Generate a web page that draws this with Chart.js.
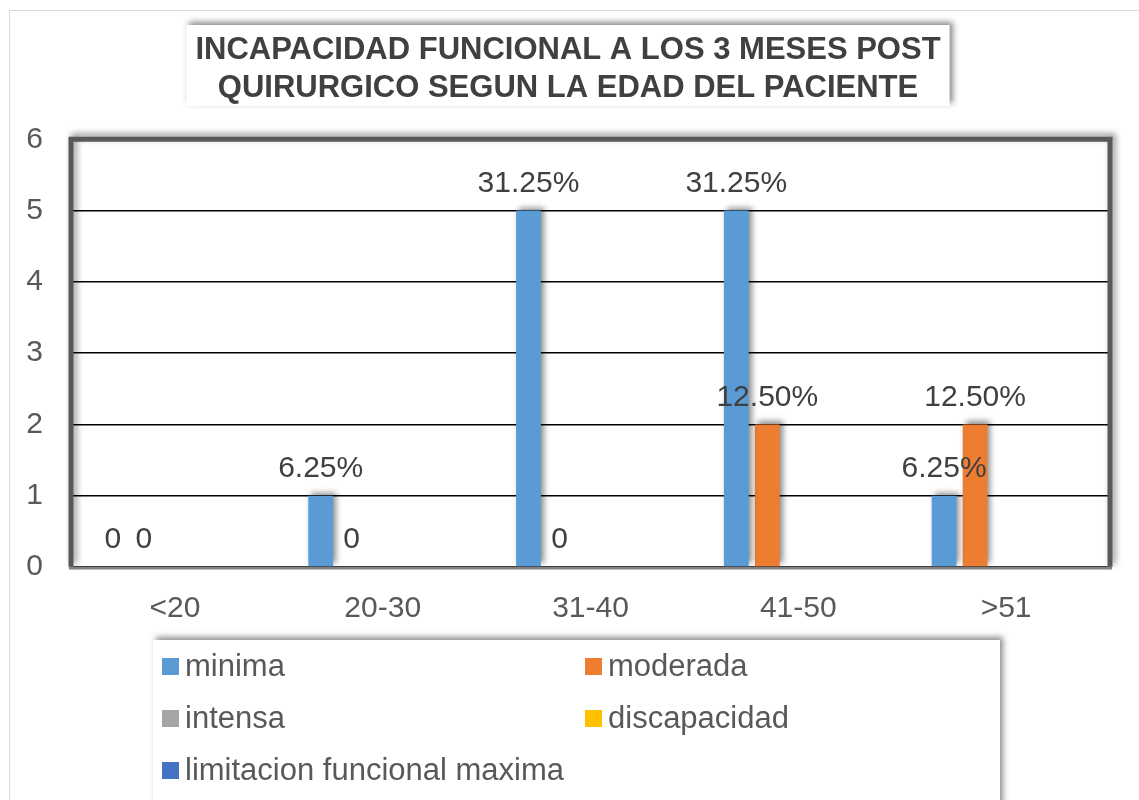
<!DOCTYPE html>
<html lang="es">
<head>
    <meta charset="UTF-8">
    <title>Incapacidad funcional segun la edad</title>
    <script src="https://cdn.jsdelivr.net/npm/chart.js"></script>
    <style>
        body { margin: 0; background: #fff; }
        #wrap { width: 1139px; height: 800px; }
    </style>
</head>
<body>
    <div id="wrap"><canvas id="grafico" width="1139" height="800"></canvas></div>

    <script>
        // datos
        const categorias = ["<20", "20-30", "31-40", "41-50", ">51"];
        const minima = [0, 1, 5, 5, 1];
        const moderada = [0, 0, 0, 2, 2];
        const intensa = [null, null, null, null, null];
        const discapacidad = [null, null, null, null, null];
        const limitacionMaxima = [null, null, null, null, null];
        const etiquetasMinima = ["0", "6.25%", "31.25%", "31.25%", "6.25%"];
        const etiquetasModerada = ["0", "0", "0", "12.50%", "12.50%"];
        const ticksY = [0, 1, 2, 3, 4, 5, 6];

        const fuente = "'Liberation Sans', Arial, sans-serif";
        const gris = "#595959";

        function sombra(ctx) {
            ctx.shadowColor = "rgba(0,0,0,0.45)";
            ctx.shadowBlur = 6;
            ctx.shadowOffsetX = 3;
            ctx.shadowOffsetY = -3;
        }

        // marco, caja del titulo, borde del area y leyenda
        const decorado = {
            id: "decorado",
            beforeDraw(chart) {
                const ctx = chart.ctx;
                ctx.save();
                ctx.strokeStyle = "#d9d9d9";
                ctx.lineWidth = 1;
                ctx.strokeRect(9.5, 10.5, 1300, 1000);
                // caja del titulo
                ctx.font = "bold 31px " + fuente;
                const w = Math.max(...chart.options.plugins.title.text.map(t => ctx.measureText(t).width));
                const cx = (chart.titleBlock.left + chart.titleBlock.right) / 2;
                sombra(ctx);
                ctx.fillStyle = "#fff";
                ctx.fillRect(cx - w / 2 - 9, 25, w + 18, 81);
                ctx.restore();
            },
            beforeDatasetsDraw(chart) {
                const ctx = chart.ctx;
                const a = chart.chartArea;
                ctx.save();
                sombra(ctx);
                ctx.strokeStyle = gris;
                ctx.lineWidth = 5;
                ctx.beginPath();
                ctx.moveTo(a.left, a.bottom);
                ctx.lineTo(a.left, a.top);
                ctx.lineTo(a.right, a.top);
                ctx.lineTo(a.right, a.bottom);
                ctx.stroke();
                ctx.restore();
                ctx.save();
                ctx.strokeStyle = "#808080";
                ctx.lineWidth = 3;
                ctx.beginPath();
                ctx.moveTo(a.left - 2, a.bottom + 1);
                ctx.lineTo(a.right + 2, a.bottom + 1);
                ctx.stroke();
                ctx.restore();
                // sombra para las barras
                ctx.save();
                sombra(ctx);
            },
            afterDatasetsDraw(chart) {
                chart.ctx.restore();
                // etiquetas de datos
                const ctx = chart.ctx;
                ctx.save();
                ctx.font = "30px " + fuente;
                ctx.fillStyle = "#404040";
                ctx.textAlign = "center";
                ctx.textBaseline = "middle";
                chart.data.datasets.forEach((ds, i) => {
                    if (!ds.etiquetas) return;
                    chart.getDatasetMeta(i).data.forEach((bar, j) => {
                        ctx.fillText(ds.etiquetas[j], bar.x, bar.y - 27);
                    });
                });
                ctx.restore();
            },
            afterDraw(chart) {
                const ctx = chart.ctx;
                ctx.save();
                sombra(ctx);
                ctx.fillStyle = "#fff";
                ctx.fillRect(153, 640, 847, 200);
                ctx.restore();
                ctx.save();
                ctx.font = "31px " + fuente;
                ctx.textBaseline = "middle";
                const cols = [162, 585];
                const filas = [666, 718, 770];
                chart.data.datasets.forEach((ds, i) => {
                    const x = cols[i % 2];
                    const y = filas[Math.floor(i / 2)];
                    ctx.fillStyle = ds.backgroundColor;
                    ctx.fillRect(x, y - 8, 17, 17);
                    ctx.fillStyle = gris;
                    ctx.fillText(ds.label, x + 23, y + 1);
                });
                ctx.restore();
            }
        };

        new Chart(document.getElementById("grafico"), {
            type: "bar",
            data: {
                labels: categorias,
                datasets: [
                    { label: "minima", data: minima, backgroundColor: "#5B9BD5", etiquetas: etiquetasMinima },
                    { label: "moderada", data: moderada, backgroundColor: "#ED7D31", etiquetas: etiquetasModerada },
                    { label: "intensa", data: intensa, backgroundColor: "#A5A5A5" },
                    { label: "discapacidad", data: discapacidad, backgroundColor: "#FFC000" },
                    { label: "limitacion funcional maxima", data: limitacionMaxima, backgroundColor: "#4472C4" }
                ]
            },
            options: {
                responsive: false,
                animation: false,
                categoryPercentage: 0.746,
                barPercentage: 0.8,
                layout: { padding: { top: 11, left: 26, right: 29, bottom: 175 } },
                plugins: {
                    legend: { display: false },
                    tooltip: { enabled: false },
                    title: {
                        display: true,
                        text: ["INCAPACIDAD FUNCIONAL A LOS 3 MESES POST", "QUIRURGICO SEGUN LA EDAD DEL PACIENTE"],
                        color: "#404040",
                        font: { family: fuente, size: 31, weight: "bold", lineHeight: 1.23 },
                        padding: { top: 20, bottom: 32 }
                    }
                },
                scales: {
                    x: {
                        grid: { display: false, drawTicks: false },
                        border: { display: false },
                        ticks: { color: gris, font: { family: fuente, size: 30 }, padding: 24 },
                        afterFit: axis => { axis.height = 58; }
                    },
                    y: {
                        min: ticksY[0],
                        max: ticksY[ticksY.length - 1],
                        afterBuildTicks: axis => { axis.ticks = ticksY.map(v => ({ value: v })); },
                        grid: { color: "#000", lineWidth: 1.5, drawTicks: false },
                        border: { display: false },
                        ticks: { color: gris, font: { family: fuente, size: 30 }, padding: 28 },
                        afterFit: axis => { axis.width = 45; }
                    }
                }
            },
            plugins: [decorado]
        });
    </script>
</body>
</html>
